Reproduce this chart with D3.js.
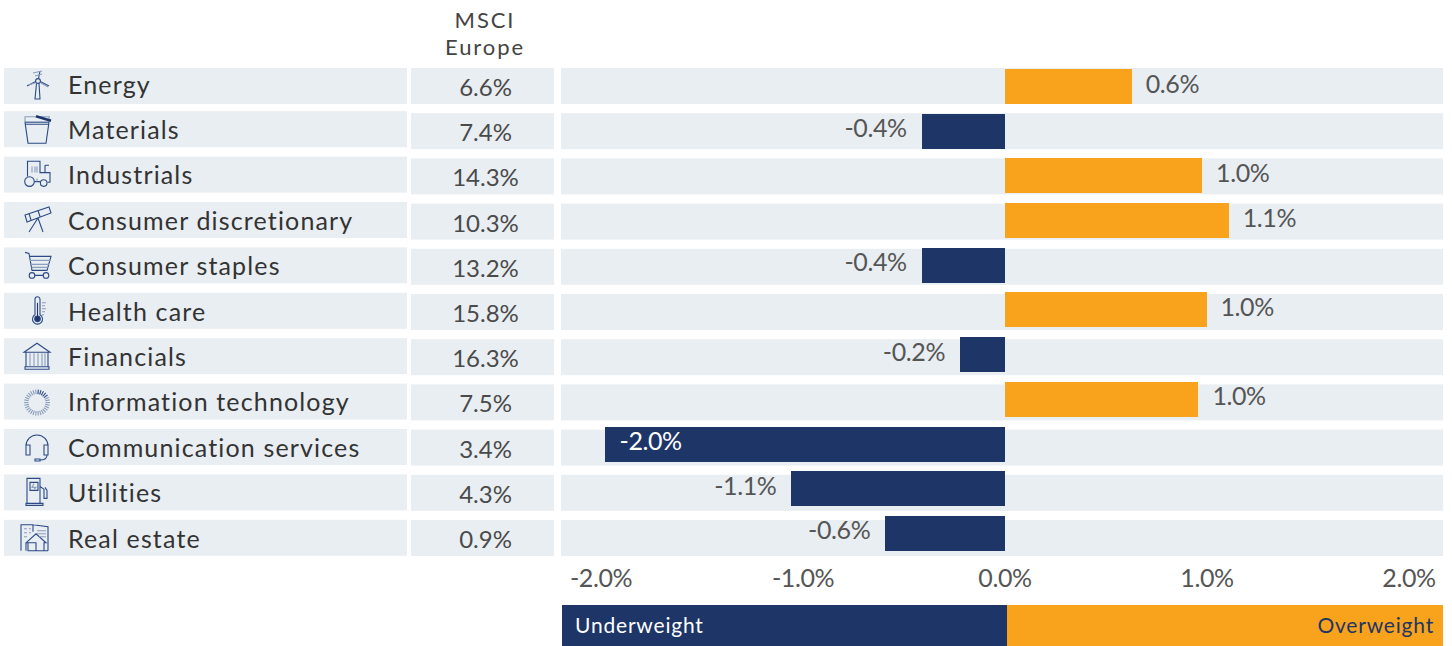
<!DOCTYPE html>
<html>
<head>
<meta charset="utf-8">
<script src="https://cdn.jsdelivr.net/npm/d3@7"></script>
<style>
  html, body { margin: 0; padding: 0; background: #fff; }
  svg { display: block; font-family: Lato, sans-serif; }
  .icon path, .icon circle, .icon rect, .icon line { fill: none; stroke: #2c4a86; stroke-width: 1.1; }
  .icon .lite { stroke: #8c9dbd; }
  .icon .dark { fill: #1d3567; }
</style>
</head>
<body>
<div id="chart"></div>
<script>
const categories = ['Energy', 'Materials', 'Industrials', 'Consumer discretionary', 'Consumer staples',
  'Health care', 'Financials', 'Information technology', 'Communication services', 'Utilities', 'Real estate'];
const msciEurope = ['6.6%', '7.4%', '14.3%', '10.3%', '13.2%', '15.8%', '16.3%', '7.5%', '3.4%', '4.3%', '0.9%'];
const activeWeight = [0.63, -0.41, 0.978, 1.11, -0.41, 1.0, -0.22, 0.96, -1.98, -1.055, -0.59];
const xTicks = [-2, -1, 0, 1, 2];

const navy = '#1d3567', orange = '#f9a31c', rowFill = '#e9eef2';

const width = 1452, height = 646;

const svg = d3.select('#chart').append('svg')
    .attr('width', width)
    .attr('height', height);

// scales
const x = d3.scaleLinear().domain([-2, 2]).range([600.5, 1408.5]);
const yBar = d3.scaleBand().domain(categories).range([69, 551]).paddingInner(0.217);
const yRow = d3.scaleBand().domain(categories).range([68, 556]).paddingInner(0.2035);
const yLeft = d3.scaleBand().domain(categories).range([65.8, 555.8]).paddingInner(0.207);

const pct = v => v.toFixed(1) + '%';

// header
svg.append('g')
    .attr('text-anchor', 'middle')
    .attr('fill', '#444')
    .attr('font-size', 22)
    .selectAll('text')
    .data(['MSCI', 'Europe'])
    .join('text')
    .attr('x', 485)
    .attr('y', (d, i) => 27.5 + i * 27)
    .style('letter-spacing', '1.9px')
    .text(d => d);

// left column
svg.append('g').selectAll('rect')
    .data(categories)
    .join('rect')
    .attr('x', 4)
    .attr('y', d => Math.max(68, yLeft(d)))
    .attr('width', 403)
    .attr('height', 36)
    .attr('fill', rowFill);

svg.append('g').selectAll('text')
    .data(categories)
    .join('text')
    .attr('x', 68)
    .attr('y', (d, i) => 93.6 + i * 45.4)
    .attr('fill', '#333')
    .attr('font-size', 25)
    .style('letter-spacing', '1.15px')
    .text(d => d);

// MSCI column
svg.append('g').selectAll('rect')
    .data(categories)
    .join('rect')
    .attr('x', 411)
    .attr('y', d => yRow(d))
    .attr('width', 143)
    .attr('height', yRow.bandwidth())
    .attr('fill', rowFill);

svg.append('g').selectAll('text')
    .data(msciEurope)
    .join('text')
    .attr('x', 485.5)
    .attr('y', (d, i) => 96 + i * 45.2)
    .attr('text-anchor', 'middle')
    .attr('fill', '#4a4a4a')
    .attr('font-size', 24)
    .text(d => d);

// bar column
svg.append('g').selectAll('rect')
    .data(categories)
    .join('rect')
    .attr('x', 561)
    .attr('y', d => yRow(d))
    .attr('width', 882)
    .attr('height', yRow.bandwidth())
    .attr('fill', rowFill);

svg.append('g').selectAll('rect')
    .data(activeWeight)
    .join('rect')
    .attr('x', d => Math.round(x(Math.min(d, 0))))
    .attr('y', (d, i) => Math.round(yBar(categories[i])))
    .attr('width', d => Math.round(x(Math.max(d, 0))) - Math.round(x(Math.min(d, 0))))
    .attr('height', yBar.bandwidth())
    .attr('fill', d => d < 0 ? navy : orange);

svg.append('g').selectAll('text')
    .data(activeWeight)
    .join('text')
    .attr('x', d => d >= 0 ? x(d) + 14 : (d < -1.5 ? x(d) + 15 : x(d) - 15))
    .attr('y', (d, i) => yBar(categories[i]) + 23.5)
    .attr('text-anchor', d => d >= 0 || d < -1.5 ? 'start' : 'end')
    .attr('fill', d => d < -1.5 ? '#fff' : '#555')
    .attr('font-size', 25)
    .style('letter-spacing', '-0.4px')
    .text(pct);

// x axis
const axis = svg.append('g')
    .attr('transform', 'translate(0,' + 565 + ')')
    .call(d3.axisBottom(x).tickValues(xTicks).tickSize(0).tickFormat(pct));
axis.select('.domain').remove();
axis.selectAll('text')
    .attr('font-family', 'Lato, sans-serif')
    .attr('font-size', 25)
    .attr('fill', '#555')
    .style('letter-spacing', '-0.4px')
    .attr('y', 4);

// under / overweight strip
svg.append('rect').attr('x', 562).attr('y', 605).attr('width', 445).attr('height', 41).attr('fill', navy);
svg.append('rect').attr('x', 1007).attr('y', 605).attr('width', 436).attr('height', 41).attr('fill', orange);
svg.append('text').attr('x', 575).attr('y', 633).attr('fill', '#fff').attr('font-size', 21)
    .style('letter-spacing', '0.8px').text('Underweight');
svg.append('text').attr('x', 1434).attr('y', 633).attr('text-anchor', 'end').attr('fill', navy).attr('font-size', 21)
    .style('letter-spacing', '0.8px').text('Overweight');

// sector icons, drawn in a small box at the start of each row
const iconTops = categories.map(d => Math.max(68, yLeft(d)));
const icons = svg.append('g').attr('class', 'icon');
const iconAt = i => icons.append('g').attr('transform', 'translate(19,' + iconTops[i] + ')');
const p = (g, d, cls) => g.append('path').attr('d', d).attr('class', cls || null);
const c = (g, cx, cy, r, cls) => g.append('circle').attr('cx', cx).attr('cy', cy).attr('r', r).attr('class', cls || null);

// energy
let g = iconAt(0);
c(g, 19, 13, 2.4);
p(g, 'M17.5,15.5L16,31H21L20,15.5M16.8,13.5L8,18M21.2,13.5L30,18M19.5,10.5L21,3');
p(g, 'M14,5L23,3M16,8L23,6M9,17L16,15M22,15L29,19', 'lite');
// materials
g = iconAt(1);
p(g, 'M6,11L9,32H27L30,11M6,13H30');
p(g, 'M5.5,5.5H31M6,6L6,11M30,6V11', 'lite');
p(g, 'M6,11H30');
p(g, 'M17,5L32,9.5').style('stroke-width', 2.6).style('stroke', navy);
// industrials
g = iconAt(2);
c(g, 10.5, 25, 4.8);
c(g, 24.7, 26.5, 3.3);
p(g, 'M8.5,20V4.7H21V16H31V25.7H28.5M15.3,25H21.3M26,16V9Q26,8.5 30,8.7');
p(g, 'M13,10V16M16,10V16M18,10V16M18,22V25', 'lite');
// consumer discretionary
g = iconAt(3);
p(g, 'M6,13L30,5L32,11L8,20ZM10,11.5L12,18M19,8.5L21,14.5M19,16L10,30M19,16L24,30');
// consumer staples
g = iconAt(4);
c(g, 13, 28, 2.8);
c(g, 27, 28, 2.8);
p(g, 'M6,5L10,6L13,23H28L32,9H10.5M15.8,28H24.2');
p(g, 'M11,13H31M12,17H30M12.5,20H29', 'lite');
// health care
g = iconAt(5);
p(g, 'M16,22V6.5A2.5,2.5 0 0 1 21,6.5V22A5,5 0 1 1 16,22Z');
c(g, 18.5, 26, 2.8, 'dark');
p(g, 'M18.5,24V10').style('stroke', navy);
p(g, 'M23,10H27M23,13H26M23,16H27M23,19H26M23,22H25', 'lite');
// financials
g = iconAt(6);
p(g, 'M5,14L18,5L31,14ZM6,28.5H30V31H6ZM7,14V28M29,14V28');
p(g, 'M11,15V28M15,15V28M19,15V28M23,15V28M26,15V28', 'lite');
// information technology
g = iconAt(7);
g.selectAll('line')
    .data(d3.range(30))
    .join('line')
    .attr('x1', d => 18 + 8.5 * Math.cos(d * Math.PI / 15))
    .attr('y1', d => 19 + 8.5 * Math.sin(d * Math.PI / 15))
    .attr('x2', d => 18 + 13 * Math.cos(d * Math.PI / 15))
    .attr('y2', d => 19 + 13 * Math.sin(d * Math.PI / 15))
    .attr('class', d => d > 22 && d < 28 ? null : 'lite');
// communication services
g = iconAt(8);
p(g, 'M7,20V17A11,11 0 0 1 29,17V20M7,16H11V26H7ZM25,16H29V26H25ZM28,26Q28,31 21,31');
p(g, 'M16,30H21V32H16Z');
// utilities
g = iconAt(9);
p(g, 'M8,29V4H21V29M7,29H24V31H7ZM11,8H19V16H11ZM21,12L25,15V24H28V16L26,13');
p(g, 'M15,9L13,13H17L15,15', 'lite');
// real estate
g = iconAt(10);
p(g, 'M2,31V5H14V12M29,31V7L14,5M14,31H29M17,31V23H7V31M7,23L17,14L27,23H25V31H9V23');
p(g, 'M5,9H8M10,9H12M5,13H8M10,13H12M5,17H8M18,11H27M18,14H27M20,17H27', 'lite');
</script>
</body>
</html>
